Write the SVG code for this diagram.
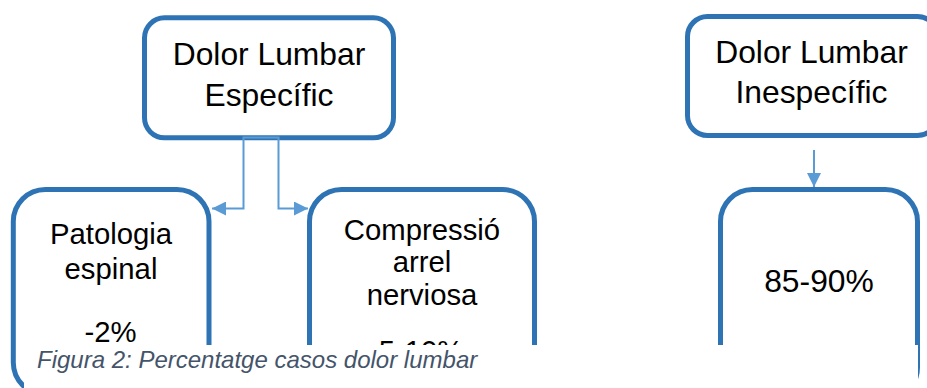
<svg xmlns="http://www.w3.org/2000/svg" width="927" height="388" viewBox="0 0 927 388">
<style>
.box{fill:#ffffff;stroke:#2e74b5;stroke-width:5}
.t{font-family:"Liberation Sans",Arial,sans-serif;fill:#000000;text-anchor:middle}
.big{font-size:31.8px}
.mid{font-size:29.3px}
.con{fill:none;stroke:#5b9bd5;stroke-width:2}
.cap{font-family:"Liberation Sans",Arial,sans-serif;font-style:italic;font-size:24px;fill:#44546a}
</style>
<defs>
<marker id="arr" viewBox="0 0 14 14" refX="14" refY="7" markerWidth="14" markerHeight="14" markerUnits="userSpaceOnUse" orient="auto">
<path d="M0,0 L14,7 L0,14 z" fill="#5b9bd5"/>
</marker>
<clipPath id="upper"><rect x="0" y="0" width="927" height="345"/></clipPath>
</defs>
<rect width="927" height="388" fill="#ffffff"/>
<g id="node-especific">
<rect class="box" x="144.5" y="17.8" width="249" height="120" rx="20"/>
<text class="t big" x="269" y="65">Dolor Lumbar</text>
<text class="t big" x="269" y="106">Específic</text>
</g>
<g id="node-inespecific">
<rect class="box" x="687.5" y="16.5" width="250" height="119" rx="20"/>
<text class="t big" x="811.5" y="63">Dolor Lumbar</text>
<text class="t big" x="811.5" y="103">Inespecífic</text>
</g>
<g id="node-patologia">
<rect class="box" x="13.3" y="189.5" width="195.7" height="205" rx="32"/>
<text class="t mid" x="111" y="244.3">Patologia</text>
<text class="t mid" x="111" y="279">espinal</text>
<text class="t mid" x="110.5" y="342" clip-path="url(#upper)">-2%</text>
</g>
<g id="node-compressio">
<rect class="box" x="309.5" y="189.5" width="225" height="205" rx="32"/>
<text class="t mid" x="422" y="240">Compressió</text>
<text class="t mid" x="422" y="272">arrel</text>
<text class="t mid" x="422" y="305">nerviosa</text>
<text class="t mid" x="421" y="361" clip-path="url(#upper)">5-10%</text>
</g>
<g id="node-percent">
<rect class="box" x="720.5" y="189.5" width="197" height="210" rx="32"/>
<text class="t big" x="819" y="292">85-90%</text>
</g>
<g id="connectors">
<path class="con" d="M261,137.5 H243.5 V208.5 H212" marker-end="url(#arr)"/>
<path class="con" d="M261,137.5 H278.5 V208.5 H308" marker-end="url(#arr)"/>
<path class="con" d="M814,150 V187" marker-end="url(#arr)"/>
</g>
<g id="caption">
<rect x="24" y="345" width="894" height="43" fill="#ffffff"/>
<text class="cap" x="37" y="368">Figura 2: Percentatge casos dolor lumbar</text>
</g>
</svg>
